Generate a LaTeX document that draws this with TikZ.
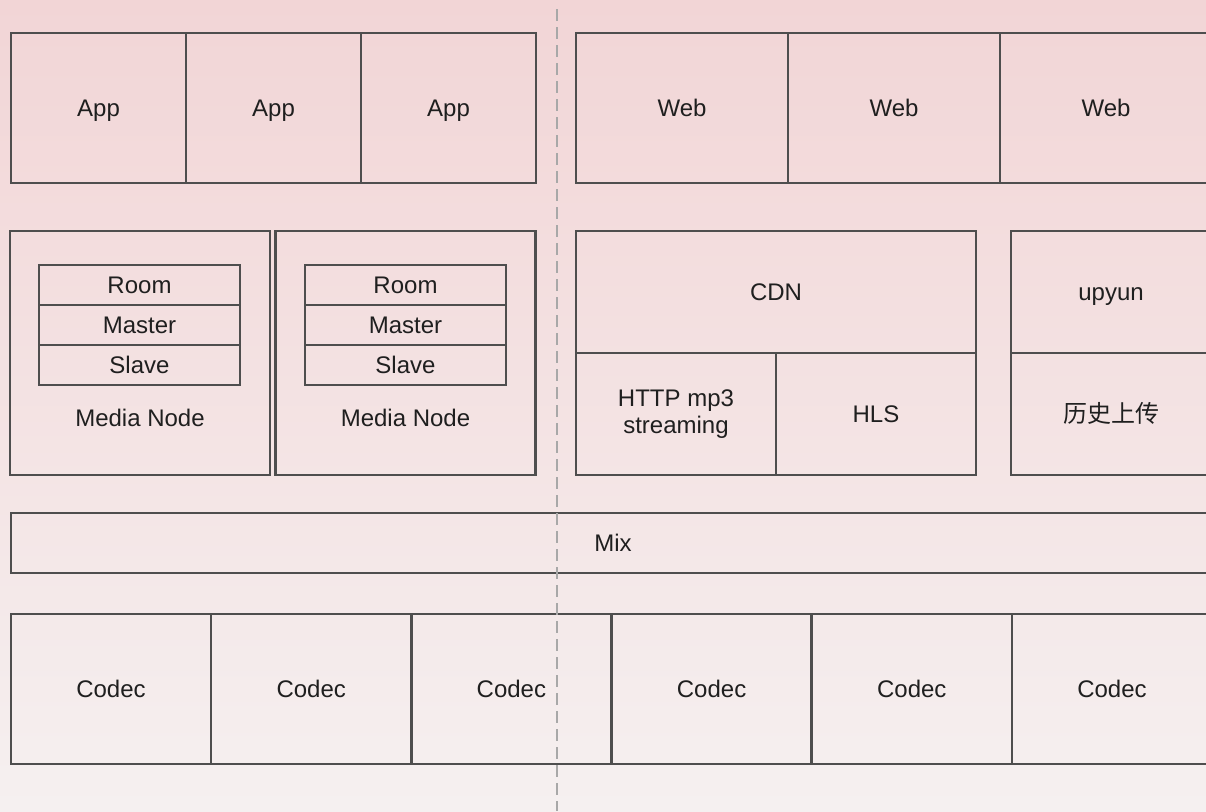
\documentclass[tikz,border=0pt]{standalone}
\usepackage{fontspec}
\setmainfont{Liberation Sans}
\newfontfamily\cjkfont{Noto Sans CJK SC}
\usetikzlibrary{positioning}
\definecolor{boxline}{RGB}{78,78,78}
\definecolor{splitline}{RGB}{168,168,168}
\definecolor{bgtop}{RGB}{242,213,214}
\definecolor{bgbot}{RGB}{245,240,240}

\begin{document}
\begin{tikzpicture}[x=0.5pt, y=-0.5pt, node distance=100pt, on grid]

	\tikzset{
		box/.style = {rectangle, draw=boxline, line width=1.3pt, inner sep=0pt,
			font=\fontsize{12}{13.5}\selectfont, text=black!88},
		oneline/.style = {text height=8.6pt, text depth=0pt},
		appbox/.style = {box, oneline, minimum width=87.5pt, minimum height=75pt},
		webbox/.style = {box, oneline, minimum width=106pt, minimum height=75pt},
		mediabox/.style = {box, minimum width=130pt, minimum height=122pt},
		stackbox/.style = {box, oneline, minimum width=100.5pt, minimum height=20pt},
		halfbox/.style = {box, minimum width=100pt, minimum height=61pt, align=center},
		codecbox/.style = {box, oneline, minimum width=100.1pt, minimum height=75pt},
		plain/.style = {oneline, font=\fontsize{12}{13.5}\selectfont, text=black!88, inner sep=0pt}
	}

	\useasboundingbox (0,0) rectangle (1206,811);
	\clip (0,0) rectangle (1206,811);
	\shade[top color=bgtop, bottom color=bgbot] (0,0) rectangle (1206,811);

	% top row
	\node[appbox] (app1) at (98.5,108) {App};
	\node[appbox] (app2) [right=87.5pt of app1] {App};
	\node[appbox] (app3) [right=87.5pt of app2] {App};

	\node[webbox] (web1) at (682,108) {Web};
	\node[webbox] (web2) [right=106pt of web1] {Web};
	\node[webbox] (web3) [right=106pt of web2] {Web};

	% media nodes
	\node[mediabox] (media1) at (140,353) {};
	\node[mediabox] (media2) [right=132.75pt of media1] {};

	\node[stackbox] (room1) at (139.5,285) {Room};
	\node[stackbox] (master1) [below=20pt of room1] {Master};
	\node[stackbox] (slave1) [below=20pt of master1] {Slave};
	\node[plain] (mlabel1) at (140,418) {Media Node};

	\node[stackbox] (room2) at (405.5,285) {Room};
	\node[stackbox] (master2) [below=20pt of room2] {Master};
	\node[stackbox] (slave2) [below=20pt of master2] {Slave};
	\node[plain] (mlabel2) at (405.5,418) {Media Node};

	% distribution
	\node[halfbox, oneline, minimum width=200pt] (cdn) at (776,292) {CDN};
	\node[halfbox] (http) at (676,414) {HTTP mp3\\streaming};
	\node[halfbox, oneline] (hls) [right=100pt of http] {HLS};

	\node[halfbox, oneline] (upyun) at (1111,292) {upyun};
	\node[halfbox, oneline] (upload) [below=61pt of upyun] {\cjkfont 历史上传};

	% mix and codecs
	\node[box, oneline, minimum width=602pt, minimum height=30pt] (mix) at (613,543) {Mix};
	\foreach \i in {1,...,6}
		\node[codecbox] (codec\i) at ({111+200.2*(\i-1)},689) {Codec};

	\coordinate (split top) at (557,9);
	\coordinate (split bot) at (557,811);
	\draw[splitline, line width=1pt, dash pattern=on 6pt off 3pt] (split top) -- (split bot);

\end{tikzpicture}
\end{document}
